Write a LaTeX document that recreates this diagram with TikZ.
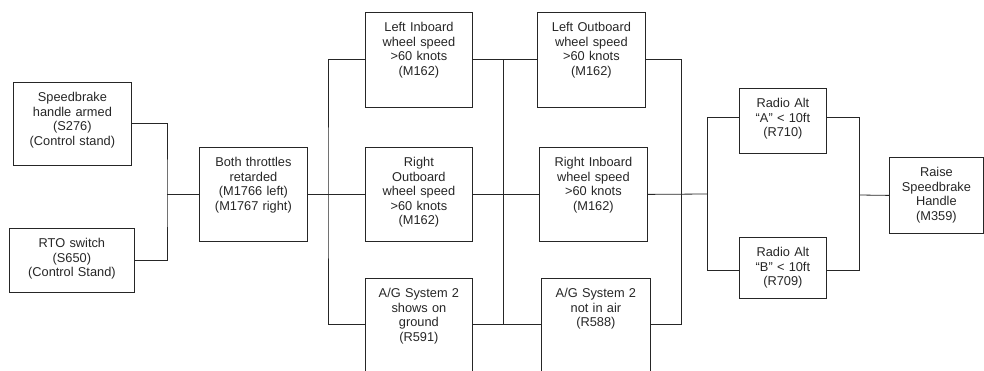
\documentclass[tikz,border=0pt]{standalone}
\usepackage{fontspec}
\setmainfont{Liberation Sans}

\begin{document}
\begin{tikzpicture}[x=1pt, y=-1pt, line width=0.8pt, color=black!85,
	cond/.style={draw, anchor=north west, inner sep=0pt, align=center,
		text height=19.5pt, font=\fontsize{12.8}{14.5}\selectfont}]
	\useasboundingbox (0,0) rectangle (984,371);
	\clip (0,0) rectangle (984,371);
	\node[cond, text width=118pt, text depth=63.5pt] (sb) at (13,82)
		{Speedbrake\\handle armed\\(S276)\\(Control stand)};
	\node[cond, text width=125pt, text depth=44.5pt] (rto) at (9,228)
		{RTO switch\\(S650)\\(Control Stand)};
	\node[cond, text width=108pt, text depth=74.5pt] (thr) at (199,147)
		{Both throttles\\retarded\\(M1766 left)\\(M1767 right)};
	\node[cond, text width=107pt, text depth=75.5pt] (lib) at (365,12)
		{Left Inboard\\wheel speed\\>60 knots\\(M162)};
	\node[cond, text width=107pt, text depth=74.5pt] (rob) at (365,147)
		{Right\\Outboard\\wheel speed\\>60 knots\\(M162)};
	\node[cond, text width=107pt, text depth=90.5pt] (ags) at (365,278)
		{A/G System 2\\shows on\\ground\\(R591)};
	\node[cond, text width=108pt, text depth=75.5pt] (lob) at (537,12)
		{Left Outboard\\wheel speed\\>60 knots\\(M162)};
	\node[cond, text width=108pt, text depth=74.5pt] (rib) at (539,147)
		{Right Inboard\\wheel speed\\>60 knots\\(M162)};
	\node[cond, text width=109pt, text depth=90.5pt] (agn) at (541,278)
		{A/G System 2\\not in air\\(R588)};
	\node[cond, text width=87pt, text depth=45.5pt] (raa) at (739,88)
		{Radio Alt\\“A” < 10ft\\(R710)};
	\node[cond, text width=87pt, text depth=41.5pt] (rab) at (739,237)
		{Radio Alt\\“B” < 10ft\\(R709)};
	\node[cond, text width=94pt, text depth=56.5pt] (rsh) at (889,157)
		{Raise\\Speedbrake\\Handle\\(M359)};

	\coordinate (j2) at (328,194);
	\coordinate (j3) at (503,194);
	\coordinate (j4) at (681,194);
	\coordinate (j5) at (707,194);
	\coordinate (j6) at (859,195);
	\coordinate (agsW) at ([yshift=-46pt]ags.north west);
	\coordinate (agsE) at ([yshift=-46pt]ags.north east);
	\coordinate (agnW) at ([yshift=-46pt]agn.north west);
	\coordinate (agnE) at ([yshift=-46pt]agn.north east);
	\coordinate (raaW) at ([yshift=-29pt]raa.north west);
	\coordinate (raaE) at ([yshift=-29pt]raa.north east);
	\coordinate (rabW) at ([yshift=-33pt]rab.north west);
	\coordinate (rabE) at ([yshift=-33pt]rab.north east);

	\draw (thr.west) -- ++(-32,0) coordinate (j1);
	\draw (sb.east) -| (j1) |- (rto.east);
	\draw (thr.east) -- (rob.west);
	\draw (lib.west) -| (j2) |- (agsW);
	\draw (lib.east) -- (lob.west);
	\draw (rob.east) -- (rib.west);
	\draw (agsE) -- (agnW);
	\draw (j3 |- lib.east) -- (j3 |- agsE);
	\draw (lob.east) -| (j4) |- (agnE);
	\draw (rib.east) -- (j5);
	\draw (raaW) -| (j5) |- (rabW);
	\draw (raaE) -| (j6) |- (rabE);
	\draw (j6) -- (rsh.west);
\end{tikzpicture}
\end{document}
